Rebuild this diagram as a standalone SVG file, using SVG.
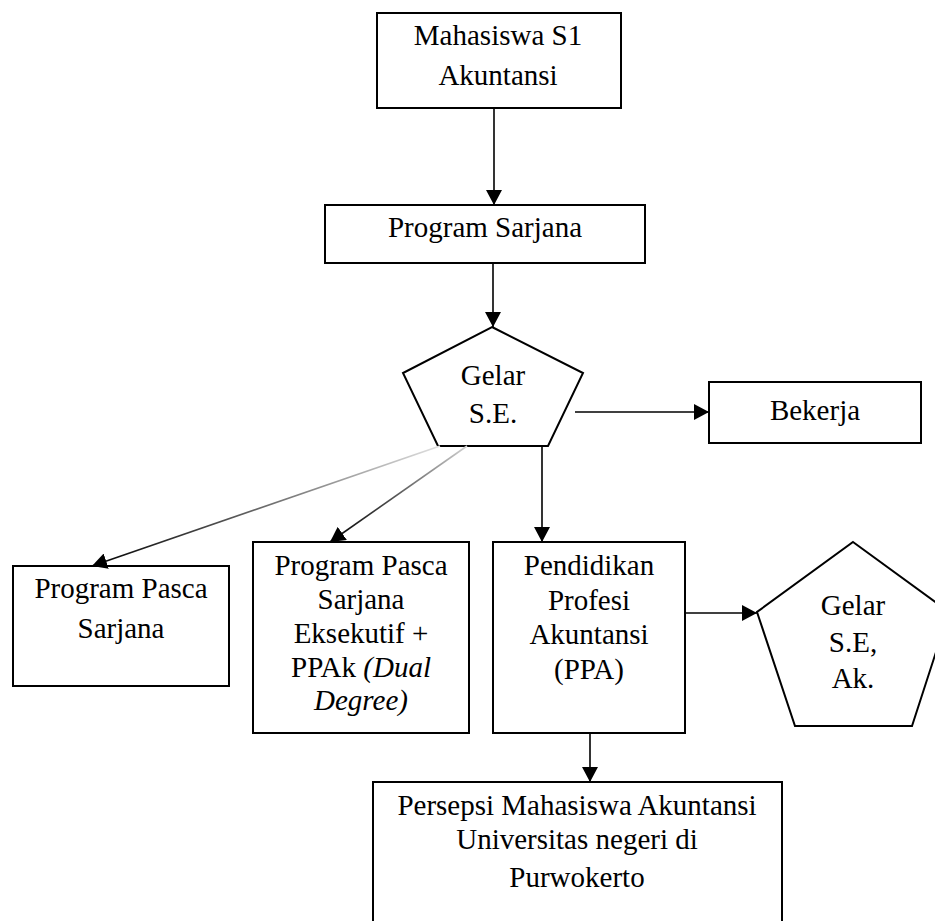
<svg xmlns="http://www.w3.org/2000/svg" width="935" height="921" viewBox="0 0 935 921">
<style>
.box{fill:#fff;stroke:#000;stroke-width:2}
.t{font-family:"Liberation Serif","Times New Roman",serif;font-size:29px;fill:#000;text-anchor:middle}
.c{fill:none;stroke:#000;stroke-width:1.6}
.i{font-style:italic}
</style>
<defs>
<marker id="ah" markerUnits="userSpaceOnUse" markerWidth="16" markerHeight="16" refX="15" refY="8" orient="auto">
<path d="M0,0 L15,8 L0,16 z" fill="#000"/>
</marker>
<linearGradient id="g1" gradientUnits="userSpaceOnUse" x1="440" y1="446" x2="92" y2="566">
<stop offset="0" stop-color="#e0e0e0"/><stop offset="0.6" stop-color="#555"/><stop offset="1" stop-color="#000"/>
</linearGradient>
<linearGradient id="g2" gradientUnits="userSpaceOnUse" x1="467" y1="446" x2="330" y2="541">
<stop offset="0" stop-color="#d0d0d0"/><stop offset="0.6" stop-color="#444"/><stop offset="1" stop-color="#000"/>
</linearGradient>
</defs>
<rect width="935" height="921" fill="#fff"/>

<g id="n-mahasiswa">
<rect class="box" x="377" y="13" width="244" height="95"/>
<text class="t" x="498" y="45">Mahasiswa S1</text>
<text class="t" x="498" y="85">Akuntansi</text>
</g>

<g id="n-sarjana">
<rect class="box" x="325" y="205" width="320" height="58"/>
<text class="t" x="485" y="237">Program Sarjana</text>
</g>

<g id="n-gelar-se">
<polygon class="box" points="492,327 583,373 548,446 438,446 403,373"/>
<text class="t" x="493" y="385">Gelar</text>
<text class="t" x="493" y="423">S.E.</text>
</g>

<g id="n-bekerja">
<rect class="box" x="709" y="382" width="212" height="61"/>
<text class="t" x="815" y="420">Bekerja</text>
</g>

<g id="n-pasca">
<rect class="box" x="13" y="566" width="216" height="120"/>
<text class="t" x="121" y="598">Program Pasca</text>
<text class="t" x="121" y="638">Sarjana</text>
</g>

<g id="n-eksekutif">
<rect class="box" x="253" y="542" width="216" height="191"/>
<text class="t" x="361" y="575">Program Pasca</text>
<text class="t" x="361" y="609">Sarjana</text>
<text class="t" x="361" y="643">Eksekutif +</text>
<text class="t" x="361" y="677">PPAk <tspan class="i">(Dual</tspan></text>
<text class="t i" x="361" y="710">Degree)</text>
</g>

<g id="n-ppa">
<rect class="box" x="493" y="542" width="192" height="191"/>
<text class="t" x="589" y="575">Pendidikan</text>
<text class="t" x="589" y="610">Profesi</text>
<text class="t" x="589" y="644">Akuntansi</text>
<text class="t" x="589" y="679">(PPA)</text>
</g>

<g id="n-gelar-seak">
<polygon class="box" points="853,542 949,612 912,726 795,726 757,612"/>
<text class="t" x="853" y="615">Gelar</text>
<text class="t" x="853" y="652">S.E,</text>
<text class="t" x="853" y="688">Ak.</text>
</g>

<g id="n-persepsi">
<rect class="box" x="373" y="782" width="409" height="150"/>
<text class="t" x="577" y="815">Persepsi Mahasiswa Akuntansi</text>
<text class="t" x="577" y="849">Universitas negeri di</text>
<text class="t" x="577" y="887">Purwokerto</text>
</g>

<g id="connectors">
<line class="c" x1="494" y1="108" x2="494" y2="205" marker-end="url(#ah)"/>
<line class="c" x1="493" y1="263" x2="493" y2="327" marker-end="url(#ah)"/>
<line class="c" x1="575" y1="412" x2="709" y2="412" marker-end="url(#ah)"/>
<line class="c" x1="542" y1="446" x2="542" y2="542" marker-end="url(#ah)"/>
<line x1="440" y1="446" x2="92" y2="566" stroke="url(#g1)" stroke-width="1.6" marker-end="url(#ah)"/>
<line x1="467" y1="446" x2="330" y2="542" stroke="url(#g2)" stroke-width="1.6" marker-end="url(#ah)"/>
<line class="c" x1="685" y1="613" x2="757" y2="613" marker-end="url(#ah)"/>
<line class="c" x1="590" y1="733" x2="590" y2="782" marker-end="url(#ah)"/>
</g>
</svg>
